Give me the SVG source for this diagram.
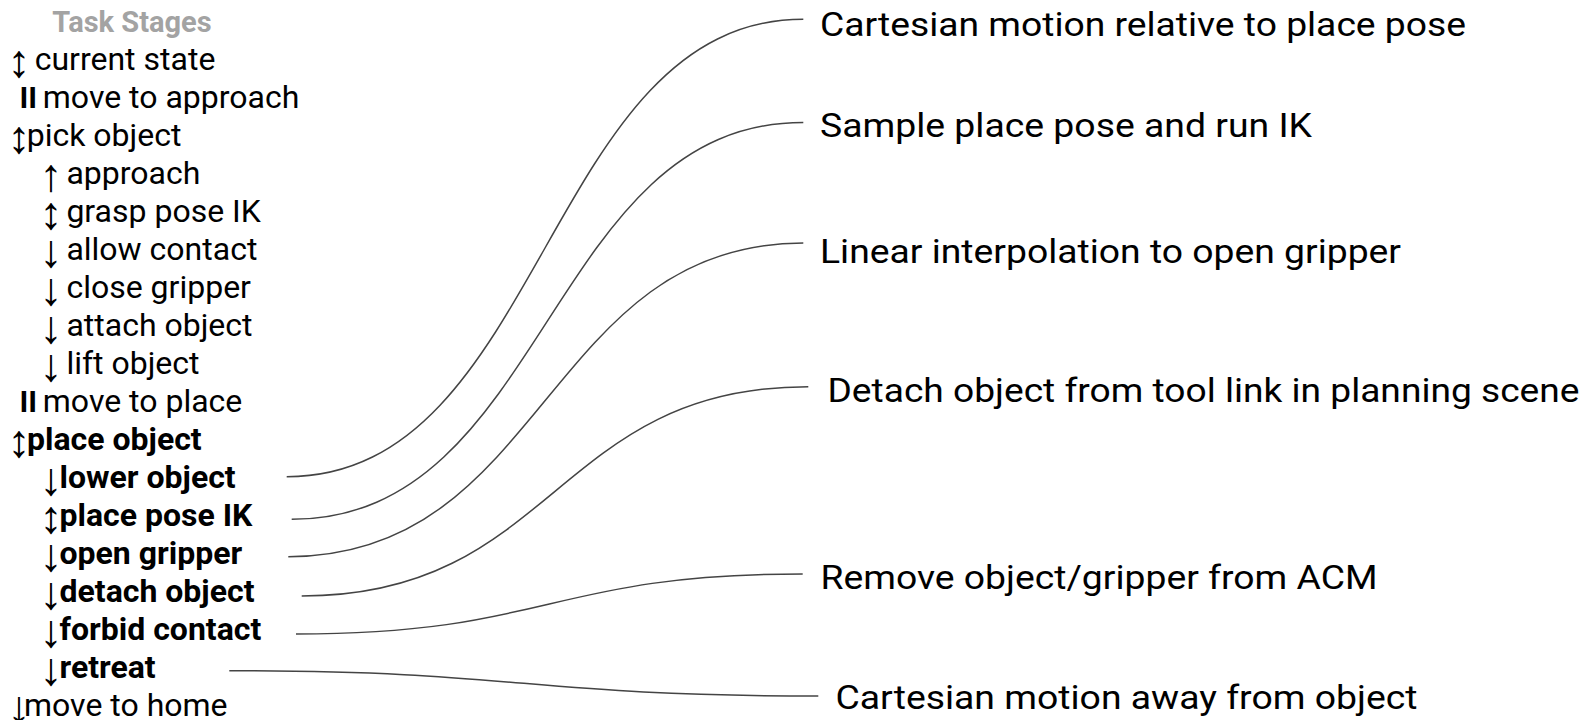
<svg xmlns="http://www.w3.org/2000/svg" width="1585" height="720" viewBox="0 0 1585 720">
  <style>
    text { font-family: Roboto, "Liberation Sans", sans-serif; font-size: 32px; fill: #000; }
    .title { font-size: 29px; font-weight: 700; fill: #a3a3a3; }
    .b { font-weight: 700; }
    .arr { font-family: "Liberation Sans", "DejaVu Sans", sans-serif; font-size: 46px; font-weight: 400; }
    .par { font-size: 30px; font-weight: 700; }
    .desc { font-size: 33px; }
    .link { fill: none; stroke: #444; stroke-width: 1.5; }
  </style>
  <rect width="1585" height="720" fill="#fff"/>

  <!-- stage tree: arrow glyph baselines sit 7px below the label baseline -->
  <g id="stages">
    <text class="title" x="132" y="32" text-anchor="middle">Task Stages</text>
    <g id="s-current-state"><text><tspan class="arr" x="7.3" y="77.3">↕</tspan><tspan x="34.7" y="70.3">current state</tspan></text></g>
    <g id="s-move-to-approach"><text><tspan class="par" x="19.5" y="108.3">II</tspan><tspan x="42.8" y="108.3">move to approach</tspan></text></g>
    <g id="s-pick-object"><text><tspan class="arr" x="7.3" y="153.3">↕</tspan><tspan x="26.7" y="146.3">pick object</tspan></text></g>
    <g id="s-approach"><text><tspan class="arr" x="39.3" y="191.3">↑</tspan><tspan x="66.4" y="184.3">approach</tspan></text></g>
    <g id="s-grasp-pose-ik"><text><tspan class="arr" x="39.3" y="229.3">↕</tspan><tspan x="66.4" y="222.3">grasp pose IK</tspan></text></g>
    <g id="s-allow-contact"><text><tspan class="arr" x="39.3" y="267.3">↓</tspan><tspan x="66.4" y="260.3">allow contact</tspan></text></g>
    <g id="s-close-gripper"><text><tspan class="arr" x="39.3" y="305.3">↓</tspan><tspan x="66.4" y="298.3">close gripper</tspan></text></g>
    <g id="s-attach-object"><text><tspan class="arr" x="39.3" y="343.3">↓</tspan><tspan x="66.4" y="336.3">attach object</tspan></text></g>
    <g id="s-lift-object"><text><tspan class="arr" x="39.3" y="381.3">↓</tspan><tspan x="66.4" y="374.3">lift object</tspan></text></g>
    <g id="s-move-to-place"><text><tspan class="par" x="19.5" y="412.3">II</tspan><tspan x="42.8" y="412.3">move to place</tspan></text></g>
    <g id="s-place-object"><text><tspan class="arr" x="7.3" y="457.3">↕</tspan><tspan class="b" x="27" y="450.3">place object</tspan></text></g>
    <g id="s-lower-object"><text><tspan class="arr" x="39.3" y="495.3">↓</tspan><tspan class="b" x="59.5" y="488.3">lower object</tspan></text></g>
    <g id="s-place-pose-ik"><text><tspan class="arr" x="39.3" y="533.3">↕</tspan><tspan class="b" x="59.5" y="526.3">place pose IK</tspan></text></g>
    <g id="s-open-gripper"><text><tspan class="arr" x="39.3" y="571.3">↓</tspan><tspan class="b" x="59.5" y="564.3">open gripper</tspan></text></g>
    <g id="s-detach-object"><text><tspan class="arr" x="39.3" y="609.3">↓</tspan><tspan class="b" x="59.5" y="602.3">detach object</tspan></text></g>
    <g id="s-forbid-contact"><text><tspan class="arr" x="39.3" y="647.3">↓</tspan><tspan class="b" x="59.5" y="640.3">forbid contact</tspan></text></g>
    <g id="s-retreat"><text><tspan class="arr" x="39.3" y="685.3">↓</tspan><tspan class="b" x="59.5" y="678.3">retreat</tspan></text></g>
    <g id="s-move-to-home"><text><tspan class="arr" x="7.3" y="723.3">↓</tspan><tspan x="24" y="716.3">move to home</tspan></text></g>
  </g>

  <g id="connectors">
    <path class="link" d="M286.7,476.7 C545,476.7 545,19.3 803.3,19.3"/>
    <path class="link" d="M291.7,519.3 C547.5,519.3 547.5,122.5 803.3,122.5"/>
    <path class="link" d="M288.3,556.7 C545.8,556.7 545.8,243 803.3,243"/>
    <path class="link" d="M301.7,596 C555,596 555,386.7 808.3,386.7"/>
    <path class="link" d="M296,634 C549.4,634 549.4,574 802.7,574"/>
    <path class="link" d="M229.3,670.7 C523.8,670.7 523.8,696 818.3,696"/>
  </g>

  <g id="descriptions">
    <g id="d-lower"><text class="desc" x="820" y="35.5" textLength="646" lengthAdjust="spacingAndGlyphs">Cartesian motion relative to place pose</text></g>
    <g id="d-place-ik"><text class="desc" x="820" y="137" textLength="492" lengthAdjust="spacingAndGlyphs">Sample place pose and run IK</text></g>
    <g id="d-open"><text class="desc" x="820" y="263.3" textLength="581" lengthAdjust="spacingAndGlyphs">Linear interpolation to open gripper</text></g>
    <g id="d-detach"><text class="desc" x="827.5" y="401.7" textLength="752" lengthAdjust="spacingAndGlyphs">Detach object from tool link in planning scene</text></g>
    <g id="d-forbid"><text class="desc" x="820.5" y="589" textLength="557" lengthAdjust="spacingAndGlyphs">Remove object/gripper from ACM</text></g>
    <g id="d-retreat"><text class="desc" x="835.5" y="709" textLength="582" lengthAdjust="spacingAndGlyphs">Cartesian motion away from object</text></g>
  </g>
</svg>
